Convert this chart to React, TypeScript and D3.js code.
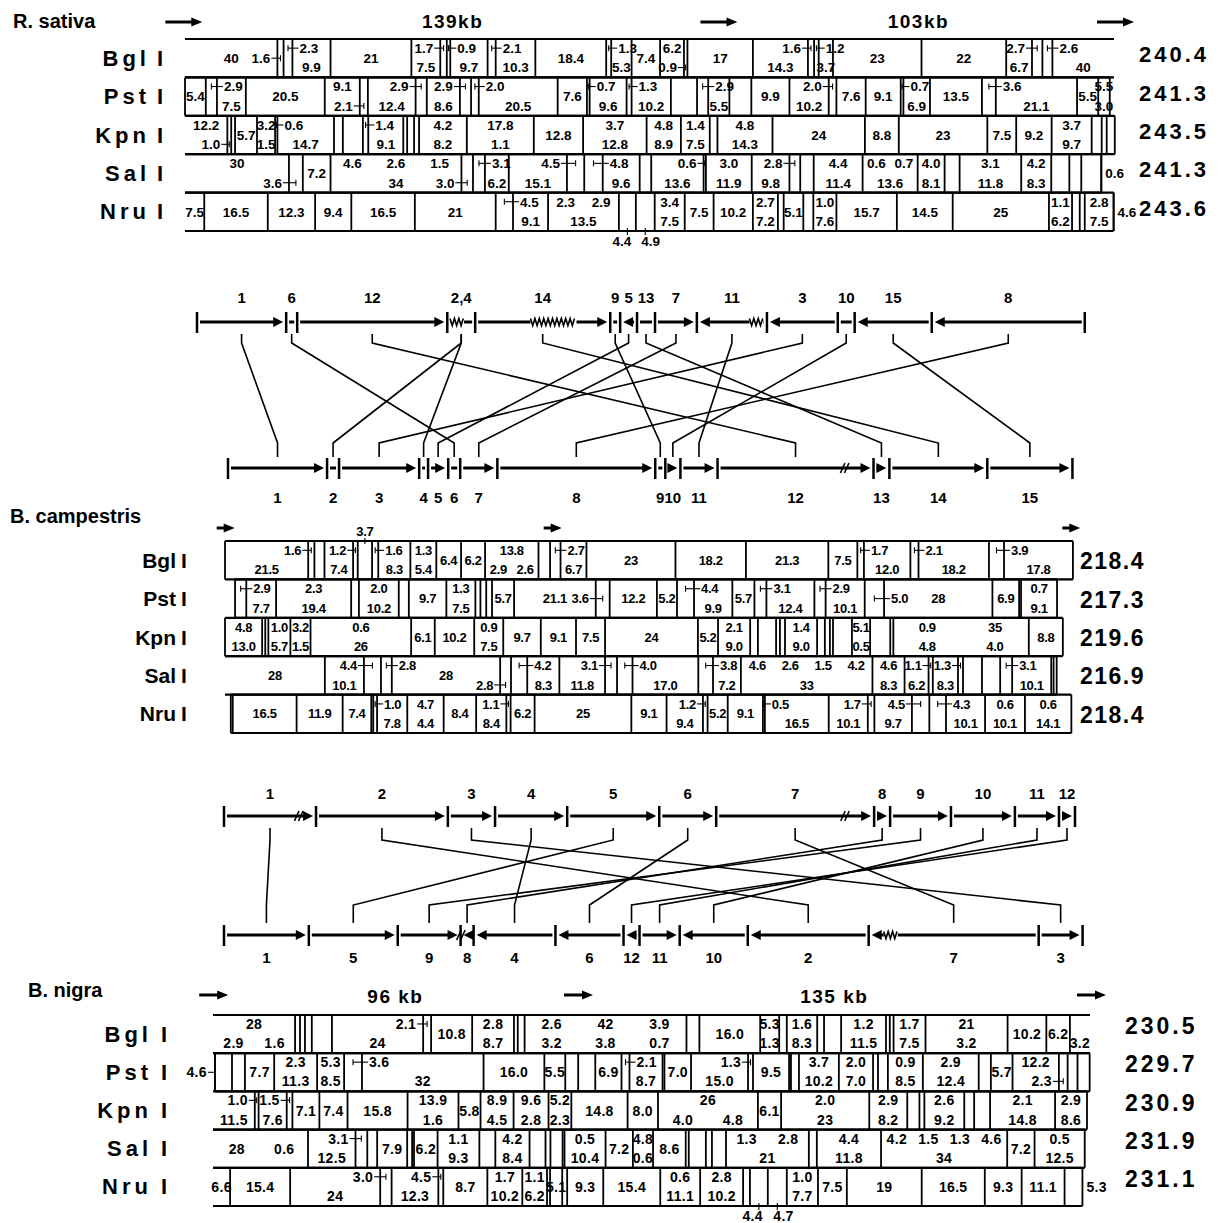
import React from "react";
import * as d3 from "d3";

const FONT = "'Liberation Sans', Arial, Helvetica, sans-serif";

const enzymes = ["Bgl", "Pst", "Kpn", "Sal", "Nru"];

// Fragment sizes (kb) in map order.
// suffix: < > label sits in the neighbouring box (top line), { } same but bottom line,
// [ ] same but middle line, ^ above the row, v below the row, r / l outside the row.
// *w = drawn width in kb when it differs from the printed size.
const rsBgl = ["40*24", "1.6[", "2.3>", "9.9", "21", "7.5", "1.7<", "0.9>", "9.7", "2.1>", "10.3", "18.4", "1.3>", "5.3", "7.4", "6.2", "0.9{", "17", "14.3", "1.6<", "1.2>", "3.7", "23", "22", "6.7", "2.7<", "2.6>", "40*16"];
const rsPst = ["5.4", "2.9>", "7.5", "20.5", "9.1", "2.1{", "12.4", "2.9<", "8.6", "2.9<", "2.0>", "20.5", "7.6", "0.7>", "9.6", "1.3>", "10.2", "*6.8", "2.9>", "5.5", "*5.7", "9.9", "10.2", "2.0<", "7.6", "9.1", "0.7>", "6.9", "13.5", "3.6>", "21.1", "5.5", "5.5/3.0*3"];
const rsKpn = ["12.2*11", "1.0{", "*1", "5.7", "3.2/1.5*4.7", "0.6>", "14.7", "*2.3", "*5.2", "1.4>", "9.1", "*1", "*1.8", "*1.3", "4.2/8.2*12.4", "17.8/1.1*17.4", "12.8", "3.7/12.8*16.5", "4.8/8.9*8.9", "1.4/7.5*7.5", "*2", "4.8/14.3*14.3", "24", "8.8", "23", "7.5", "9.2", "3.7/9.7*10.4", "*2.6", "*1.3", "*2.1"];
const rsSal = ["30*27", "3.6{", "7.2", "4.6 2.6 1.5/34*34", "3.0{", "3.1>", "6.2", "15.1", "4.5<", "4.8>", "9.6", "*3", "13.6", "0.6<", "3.0/11.9*11.9", "9.8", "2.8<", "*3.5", "4.4/11.4*12.7", "0.6 0.7/13.6*14.3", "4.0/8.1*7", "*3.9", "3.1/11.8*16", "4.2/8.3*7.8", "*4.7", "*3.1", "*5.2", "0.6*0r"];
const rsNru = ["7.5*5", "16.5", "12.3", "9.4", "16.5", "21", "4.5>", "9.1", "2.3 2.9/13.5*18.4", "4.4v", "4.9v", "3.4/7.5*7.8", "7.5", "10.2", "2.7/7.2*6.5", "*1.5", "5.1", "*2.6", "1.0/7.6*6", "15.7", "14.5", "25", "1.1/6.2*6", "*2", "*1.3", "2.8/7.5*7.5", "4.6*0r"];
const rsTotals = ["240.4", "241.3", "243.5", "241.3", "243.6"];
const rsStart = [0, 0, 0, 0, 0];
const rsOpen = ["LR", "", "L", "L", "L"];
const rsRegions = [139, 103];
const rsRegionLabels = ["139kb", "103kb"];

const bcBgl = ["21.5", "1.6<", "*2.6", "7.4", "1.2<", "3.7^", "1.6>", "8.3", "1.3/5.4*6.7", "6.4", "6.2", "13.8/2.9 2.6*13.8", "*3", "2.7>", "6.7", "23", "18.2", "21.3", "7.5", "1.7>", "12.0", "2.1>", "18.2", "3.9>", "17.8"];
const bcPst = ["2.9>", "7.7", "2.3/19.4*19.4", "*2", "2.0/10.2*10.3", "*2.6", "9.7", "1.3/7.5*7.5", "*1.3", "*1.5", "*1.5", "5.7", "21.1", "3.6[", "12.2", "5.2", "4.4>", "9.9", "5.7", "3.1>", "12.4", "2.9>", "10.1", "5.0]", "28", "6.9", "*0.5", "0.7/9.1*9.3"];
const bcKpn = ["4.8/13.0*9.6", "*0.8", "*0.8", "1.0/5.7*5.7", "3.2/1.5*5.2", "0.6/26*26", "6.1", "10.2", "0.9/7.5*7.5", "9.7", "9.1", "7.5", "24", "5.2", "2.1/9.0*8.3", "*2", "*4.7", "*1", "*1.3", "1.4/9.0*8.3", "*2", "*1.3", "*0.8", "*4.9", "5.1/0.5*4.7", "*5.2", "*0.8", "0.9 35/4.8 4.0*35", "8.8"];
const bcSal = ["28*25.8", "10.1", "4.4<", "2.8>", "28", "2.8{", "4.2>", "8.3", "11.8", "3.1<", "4.0>", "17.0", "3.8>", "7.2", "4.6 2.6 1.5 4.2/33*34", "4.6/8.3*8.3", "6.2", "1.1<", "8.3*6.5", "1.3<", "*4.9", "*4.7", "3.1>", "10.1", "*0.6", "*0.8"];
const bcNru = ["*0.5", "16.5", "11.9", "7.4", "*0.5", "1.0>", "7.8", "4.7/4.4*9.4", "8.4", "8.4*7.8", "1.1<", "6.2", "25", "9.1", "9.4", "1.2<", "5.2", "9.1", "0.5>", "16.5", "10.1", "1.7<", "9.7", "4.5<", "4.3>", "10.1", "0.6/10.1*10.3", "0.6/14.1*12"];
const bcTotals = ["218.4", "217.3", "219.6", "216.9", "218.4"];
const bcStart = [0, 2.6, 0, 0, 1.5];
const bcOpen = ["", "", "", "L", ""];
const bcRegions = [84.5, 134];
const bcRegionLabels = ["", ""];

const bnBgl = ["28/2.9 1.6*21.6", "*1.3", "*1.3", "*1.8", "*5.3", "24", "2.1<", "10.8", "2.8/8.7*11", "*1", "*1.8", "2.6 42 3.9/3.2 3.8 0.7*42.6", "*3.4", "16.0", "5.3/1.3*5", "*2", "1.6/8.3*8", "*1.8", "*4.5", "1.2/11.5*11.8", "*1", "*1", "1.7/7.5*8.4", "21/3.2*21.6", "10.2", "6.2", "/3.2*5.3"];
const bnPst = ["4.6*0l", "*4.5", "*3.4", "7.7", "2.3/11.3*11.3", "5.3/8.5*7.1", "3.6*4.7>", "32", "16.0", "5.5", "*3.4", "*4.5", "6.9", "2.1>", "8.7", "*0.5", "7.0", "15.0", "1.3<", "9.5", "*0.5", "*2.1", "3.7/10.2*10.5", "2.0/7.0*9", "*1.3", "*2.6", "0.9/8.5*9.2", "2.9/12.4*14.7", "*3.2", "5.7", "12.2", "2.3{", "*2.6", "*3.2"];
const bnKpn = ["11.5*11", "1.0<", "7.6*7.4", "1.5<", "7.1", "7.4", "15.8", "13.9/1.6*13.4", "5.8", "8.9/4.5*8.7", "9.6/2.8*9.2", "5.2/2.3*6", "14.8", "8.0", "26/4.0 4.8*26.3", "6.1", "2.0/23*23.2", "2.9/8.2*10", "*3.2", "*1.3", "2.6/9.2*10.5", "*2.6", "*4.2", "2.1/14.8*17.1", "2.9/8.6*8.4"];
const bnSal = ["28 0.6*25", "12.5", "3.1<", "*2.6", "7.9", "*1.3", "*0.5", "6.2", "1.1/9.3*11", "*4.2", "4.2/8.4*9", "*4.2", "*1.3", "*3.2", "*0.5", "0.5/10.4*10.8", "7.2", "4.8/0.6*5.3", "8.6", "*0.8", "*4.5", "*1.6", "*3.7", "1.3 2.8/21*21.8", "*2.1", "4.4/11.8*16.9", "4.2 1.5 1.3 4.6/34*33.2", "7.2", "0.5/12.5*13.2"];
const bnNru = ["6.6*4.5", "15.4*15.8", "24*23.7", "3.0<", "12.3", "4.5*1.3<", "8.7*11.6", "1.7/10.2*9.2", "1.1/6.2*6.5", "*0.8", "5.1*3.2", "*1.3", "9.3*9.5", "15.4*15", "0.6/11.1*10.5", "2.8/10.2*11.3", "*1.8", "4.4*4.7v", "4.7*5v", "1.0/7.7*8.2", "7.5*7.6", "19*19.7", "16.5*16.6", "9.3*9.7", "11.1*11.3", "5.3*4.7r"];
const bnTotals = ["230.5", "229.7", "230.9", "231.9", "231.1"];
const bnStart = [0, 0.5, 0, 0, 0];
const bnOpen = ["LR", "", "L", "L", "L"];
const bnRegions = [96, 135];
const bnRegionLabels = ["96 kb", "135 kb"];

// genome segments (label, length kb, glyph) for the two rearrangement diagrams
type Seg = [string, number, string];
const d1Top: Seg[] = [["1", 24.3, ">"], ["6", 3.0, "H"], ["12", 40.9, ">"], ["2,4", 7.6, "z"], ["14", 36.8, "Z>"], ["9", 2.7, "H"], ["5", 4.6, "<"], ["13", 4.9, "-"], ["7", 11.4, ">"], ["11", 19.1, "<z"], ["3", 19.3, "<"], ["10", 4.6, "H"], ["15", 21.0, "<"], ["8", 41.7, "<"]];
const d1Bottom: Seg[] = [["1", 25.6, ">"], ["2", 3.1, "H"], ["3", 20.7, ">"], ["4", 2.3, "H"], ["5", 5.2, ">"], ["6", 3.1, "H"], ["7", 9.6, ">"], ["8", 40.8, ">"], ["9", 2.6, "H"], ["10", 3.9, ">"], ["11", 9.6, ">"], ["12", 40.3, "s>"], ["13", 4.1, ">"], ["14", 25.3, ">"], ["15", 22.0, ">"]];
const d2Top: Seg[] = [["1", 23.6, "s>"], ["2", 33.8, ">"], ["3", 12.1, ">"], ["4", 18.5, ">"], ["5", 23.6, ">"], ["6", 14.6, ">"], ["7", 40.5, "s>"], ["8", 4.1, ">"], ["9", 15.6, ">"], ["10", 16.4, ">"], ["11", 11.3, ">"], ["12", 4.1, ">"]];
const d2Bottom: Seg[] = [["1", 22.8, ">"], ["5", 23.9, ">"], ["9", 16.9, ">"], ["8", 3.5, "s<"], ["4", 22.0, "<"], ["6", 18.3, "<"], ["12", 4.3, "<"], ["11", 10.8, ">"], ["10", 18.3, "<"], ["2", 32.5, "<"], ["7", 45.7, "z<"], ["3", 11.8, ">"]];

type Cfg = {
  title: string; titleX: number; titleY: number;
  x0: number; k: number; top: number; h: number; fs: number; ls: number;
  nameEnd: number; barX: number; nameLs: number; nameFs: number;
  totX: number; totFs: number; totLs: number; totDy: number;
  arrowY: number; arrowLen: number; arrowLead: number; regionY: number;
};

const rsCfg: Cfg = { title: "R. sativa", titleX: 13, titleY: 28, x0: 185, k: 3.85, top: 39, h: 38.4, fs: 13.5, ls: 0, nameEnd: 150, barX: 157, nameLs: 4, nameFs: 22, totX: 1139, totFs: 22, totLs: 3, totDy: 4, arrowY: 22, arrowLen: 37, arrowLead: 4.5, regionY: 28 };
const bcCfg: Cfg = { title: "B. campestris", titleX: 10, titleY: 523, x0: 225, k: 3.87, top: 541, h: 38.4, fs: 13, ls: -0.3, nameEnd: 176, barX: 181, nameLs: 0, nameFs: 21, totX: 1080, totFs: 23, totLs: 1.5, totDy: 9, arrowY: 528, arrowLen: 18, arrowLead: 2.5, regionY: 0 };
const bnCfg: Cfg = { title: "B. nigra", titleX: 28, titleY: 997, x0: 213, k: 3.8, top: 1015, h: 38.2, fs: 14, ls: 0.3, nameEnd: 152, barX: 161, nameLs: 4, nameFs: 22, totX: 1125, totFs: 23, totLs: 3, totDy: 0, arrowY: 995, arrowLen: 29, arrowLead: 4, regionY: 1003 };

type Frag = { text: string; w: number; code: string; a: number; b: number };

function parseRow(list: string[], start: number): Frag[] {
  let pos = start;
  return list.map((s) => {
    const m = s.match(/^([^*<>{}\[\]^vrl]*)(?:\*([\d.]+))?([<>{}\[\]^vrl]?)$/);
    const text = m ? m[1].trim() : s;
    const nums = text.split(/[\/ ]+/).filter(Boolean).map(Number);
    const w = m && m[2] !== undefined ? +m[2] : nums.length ? Math.max(...nums) : 0;
    const f = { text, w, code: (m && m[3]) || "", a: pos, b: pos + w };
    pos += w;
    return f;
  });
}

function arrowEl(x1: number, x2: number, y: number, key: string) {
  const dir = x2 > x1 ? 1 : -1;
  return (
    <g key={key}>
      <line x1={x1} x2={x2 - dir * 8} y1={y} y2={y} stroke="#000" strokeWidth={3} />
      <path d={`M${x2},${y}L${x2 - dir * 11},${y - 4.5}L${x2 - dir * 11},${y + 4.5}Z`} fill="#000" />
    </g>
  );
}

function renderRow(list: string[], start: number, open: string, y: number, h: number,
  x: d3.ScaleLinear<number, number>, fs: number, key: string) {
  const items = parseRow(list, start);
  const n = items.length;
  const els: React.ReactNode[] = [];
  const X0 = x(items[0].a), X1 = x(items[n - 1].b);
  els.push(<line key={key + "ht"} x1={X0} x2={X1} y1={y} y2={y} stroke="#000" strokeWidth={2.2} />);
  els.push(<line key={key + "hb"} x1={X0} x2={X1} y1={y + h} y2={y + h} stroke="#000" strokeWidth={2.2} />);
  const cuts = items.slice(0, -1).map((it) => it.b);
  if (!open.includes("L")) cuts.push(items[0].a);
  if (!open.includes("R")) cuts.push(items[n - 1].b);
  cuts.forEach((c, i) =>
    els.push(<line key={key + "v" + i} x1={x(c)} x2={x(c)} y1={y} y2={y + h} stroke="#000" strokeWidth={1.8} />));

  const yT = y + 14, yB = y + h - 5, yM = y + h / 2 + fs * 0.36;
  const lvY: Record<string, number> = { t: yT, b: yB, m: yM };
  const hostOf = (it: Frag, i: number) => {
    const c = it.code;
    if (!c) return -1;
    if ("<{[".includes(c)) return i - 1;
    if (">}]".includes(c)) return i + 1;
    return -1;
  };
  const levelOf = (c: string) => ("<>".includes(c) ? "t" : "{}".includes(c) ? "b" : "m");
  const used = items.map(() => ({ t: false, b: false }));
  items.forEach((it, i) => {
    const j = hostOf(it, i);
    if (j >= 0 && j < n) {
      const lv = levelOf(it.code);
      if (lv === "t") used[j].t = true;
      if (lv === "b") used[j].b = true;
    }
  });
  const tok = (s: string, A: number, B: number, ty: number, k: string) => {
    const t = s.trim().split(/\s+/).filter(Boolean);
    return t.map((wd, m) => (
      <text key={k + m} x={A + ((B - A) * (m + 0.5)) / t.length} y={ty} textAnchor="middle">{wd}</text>
    ));
  };
  items.forEach((it, i) => {
    if (!it.text) return;
    const k = key + "l" + i;
    const c = it.code;
    const xc = x((it.a + it.b) / 2);
    const j = hostOf(it, i);
    if (j >= 0 && j < n) {
      const host = items[j];
      const ty = lvY[levelOf(c)];
      const left = j < i;
      const edge = left ? x(host.b) : x(host.a);
      const tx = left ? edge - 7 : edge + 7;
      const ay = ty - fs * 0.36;
      els.push(<text key={k} x={tx} y={ty} textAnchor={left ? "end" : "start"}>{it.text}</text>);
      els.push(<line key={k + "a"} x1={tx + (left ? 1 : -1)} x2={xc} y1={ay} y2={ay} stroke="#000" strokeWidth={1.1} />);
      els.push(<line key={k + "b"} x1={xc} x2={xc} y1={ay - 3} y2={ay + 3} stroke="#000" strokeWidth={1.1} />);
      return;
    }
    if (c === "^" || c === "v") {
      const up = c === "^";
      const ty = up ? y - 5 : y + h + 15;
      const prevSame = i > 0 && items[i - 1].code === c;
      const nextSame = i < n - 1 && items[i + 1].code === c;
      const anchor = nextSame ? "end" : prevSame ? "start" : "middle";
      const tx = nextSame ? xc + 4 : prevSame ? xc - 4 : xc;
      els.push(<text key={k} x={tx} y={ty} textAnchor={anchor}>{it.text}</text>);
      els.push(<line key={k + "a"} x1={xc} x2={xc} y1={up ? y - 3 : y + h - 3} y2={up ? y + 3 : y + h + 4} stroke="#000" strokeWidth={1.1} />);
      return;
    }
    if (c === "r" || c === "l") {
      const right = c === "r";
      const edge = right ? x(it.b) : x(it.a);
      const tx = right ? edge + 4 : edge - 8;
      els.push(<text key={k} x={tx} y={yM} textAnchor={right ? "start" : "end"}>{it.text}</text>);
      if (!right) els.push(<line key={k + "a"} x1={tx + 1} x2={edge} y1={yM - fs * 0.36} y2={yM - fs * 0.36} stroke="#000" strokeWidth={1.1} />);
      return;
    }
    const A = x(it.a), B = x(it.b);
    const parts = it.text.split("/");
    if (parts.length === 2) {
      els.push(...tok(parts[0], A, B, yT, k + "t"));
      els.push(...tok(parts[1], A, B, yB, k + "b"));
    } else {
      const u = used[i];
      const ty = u.t && !u.b ? yB : u.b && !u.t ? yT : yM;
      els.push(...tok(parts[0], A, B, ty, k + "m"));
    }
  });
  return els;
}

function MapSection({ cfg, rows, starts, opens, totals, regions, regionLabels }: {
  cfg: Cfg; rows: string[][]; starts: number[]; opens: string[]; totals: string[];
  regions: number[]; regionLabels: string[];
}) {
  const x = d3.scaleLinear().domain([0, 250]).range([cfg.x0, cfg.x0 + 250 * cfg.k]);
  const bounds = [0, ...d3.cumsum(regions)];
  return (
    <g>
      <text x={cfg.titleX} y={cfg.titleY} fontSize={20} fontWeight="bold">{cfg.title}</text>
      {bounds.map((b, i) => arrowEl(x(b + cfg.arrowLead) - cfg.arrowLen, x(b + cfg.arrowLead), cfg.arrowY, "ar" + i))}
      {regionLabels.map((lab, i) => lab ? (
        <text key={"rl" + i} x={x(bounds[i] + regions[i] / 2)} y={cfg.regionY} fontSize={19} fontWeight="bold" letterSpacing={1.5} textAnchor="middle">{lab}</text>
      ) : null)}
      {rows.map((list, r) => {
        const y = cfg.top + r * cfg.h;
        const cy = y + cfg.h / 2;
        return (
          <g key={"row" + r}>
            <text x={cfg.nameEnd} y={cy + 7.5} fontSize={cfg.nameFs} fontWeight="bold" letterSpacing={cfg.nameLs} textAnchor="end">{enzymes[r]}</text>
            <text x={cfg.barX} y={cy + 7.5} fontSize={cfg.nameFs} fontWeight="bold">I</text>
            <text x={cfg.totX} y={cy + cfg.totDy} fontSize={cfg.totFs} fontWeight="bold" letterSpacing={cfg.totLs}>{totals[r]}</text>
            <g fontSize={cfg.fs} fontWeight="bold" letterSpacing={cfg.ls}>
              {renderRow(list, starts[r], opens[r], y, cfg.h, x, cfg.fs, "r" + r)}
            </g>
          </g>
        );
      })}
    </g>
  );
}

function track(list: Seg[], x0: number, k: number, y: number, labY: number, key: string) {
  const x = d3.scaleLinear().domain([0, 250]).range([x0, x0 + 250 * k]);
  let p = 0;
  const segs = list.map(([lab, len, mode]) => {
    const s = { lab, a: p, b: p + len, mode };
    p += len;
    return s;
  });
  const els: React.ReactNode[] = [];
  const tick = (xx: number, kk: string) => (
    <line key={kk} x1={xx} x2={xx} y1={y - 10} y2={y + 11} stroke="#000" strokeWidth={2.5} />
  );
  els.push(tick(x(segs[0].a), key + "t0"));
  segs.forEach((s, i) => {
    const A = x(s.a), B = x(s.b);
    const kk = key + "s" + i;
    els.push(tick(B, kk + "t"));
    const L = A + 3, R = B - 3;
    const m = s.mode;
    const zi = m.search(/[zZs]/);
    const arrow = m.replace(/[zZs]/, "");
    let zx1 = 0, zx2 = 0, ch = "";
    if (zi >= 0) {
      ch = m[zi];
      let f;
      if (ch === "s") f = arrow === ">" ? (zi === 0 ? 0.82 : 0.95) : arrow === "<" ? 0.08 : 0.5;
      else f = arrow === ">" ? 0.58 : arrow === "<" ? (zi === 0 ? 0.13 : 0.85) : 0.35;
      const wz = ch === "Z" ? 46 : ch === "z" ? 14 : 6;
      const cx = A + (B - A) * f;
      zx1 = cx - wz / 2;
      zx2 = cx + wz / 2;
    }
    const lx1 = arrow === "<" ? L + 6 : L;
    const lx2 = arrow === ">" ? R - 6 : R;
    if (ch === "z" || ch === "Z") {
      els.push(<line key={kk + "l1"} x1={lx1} x2={zx1} y1={y} y2={y} stroke="#000" strokeWidth={3} />);
      els.push(<line key={kk + "l2"} x1={zx2} x2={lx2} y1={y} y2={y} stroke="#000" strokeWidth={3} />);
      const pts: string[] = [];
      let up = true;
      for (let xx = zx1; xx <= zx2 + 0.01; xx += 2.2) {
        pts.push(`${xx},${up ? y - 3.5 : y + 3.5}`);
        up = !up;
      }
      els.push(<polyline key={kk + "z"} points={pts.join(" ")} fill="none" stroke="#000" strokeWidth={1.6} />);
    } else {
      els.push(<line key={kk + "l"} x1={lx1} x2={lx2} y1={y} y2={y} stroke="#000" strokeWidth={3} />);
      if (ch === "s") {
        [0, 4].forEach((d, q) => els.push(
          <line key={kk + "sl" + q} x1={zx1 + d - 2} x2={zx1 + d + 2.5} y1={y + 5} y2={y - 5} stroke="#000" strokeWidth={1.6} />));
      }
    }
    if (arrow === ">") els.push(<path key={kk + "h"} d={`M${R},${y}L${R - 10},${y - 5}L${R - 10},${y + 5}Z`} fill="#000" />);
    if (arrow === "<") els.push(<path key={kk + "h"} d={`M${L},${y}L${L + 10},${y - 5}L${L + 10},${y + 5}Z`} fill="#000" />);
    els.push(<text key={kk + "lab"} x={(A + B) / 2} y={labY} textAnchor="middle" fontSize={15} fontWeight="bold">{s.lab}</text>);
  });
  return { els, segs: segs.map((s) => ({ lab: s.lab, cx: (x(s.a) + x(s.b)) / 2 })) };
}

function Diagram({ top, bottom, tx0, tk, bx0, bk, yT, yB, labT, labB, st }: {
  top: Seg[]; bottom: Seg[]; tx0: number; tk: number; bx0: number; bk: number;
  yT: number; yB: number; labT: number; labB: number; st: number[];
}) {
  const t = track(top, tx0, tk, yT, labT, "T");
  const b = track(bottom, bx0, bk, yB, labB, "B");
  const links: React.ReactNode[] = [];
  t.segs.forEach((ts, i) => {
    ts.lab.split(",").forEach((lab) => {
      const bs = b.segs.find((s) => s.lab === lab);
      if (!bs) return;
      links.push(
        <path key={"k" + i + lab} d={`M${ts.cx},${st[0]}V${st[1]}L${bs.cx},${st[2]}V${st[3]}`} fill="none" stroke="#000" strokeWidth={1.6} />
      );
    });
  });
  return <g>{t.els}{b.els}{links}</g>;
}

export default function App() {
  return (
    <svg width={1226} height={1223} viewBox="0 0 1226 1223"
      style={{ position: "absolute", left: 0, top: 0, background: "#fff" }} fontFamily={FONT}>
      <rect x={0} y={0} width={1226} height={1223} fill="#fff" />
      <MapSection cfg={rsCfg} rows={[rsBgl, rsPst, rsKpn, rsSal, rsNru]} starts={rsStart} opens={rsOpen}
        totals={rsTotals} regions={rsRegions} regionLabels={rsRegionLabels} />
      <Diagram top={d1Top} bottom={d1Bottom} tx0={197} tk={3.67} bx0={228} bk={3.87}
        yT={322} yB={468} labT={303} labB={503} st={[334, 343, 443, 457]} />
      <MapSection cfg={bcCfg} rows={[bcBgl, bcPst, bcKpn, bcSal, bcNru]} starts={bcStart} opens={bcOpen}
        totals={bcTotals} regions={bcRegions} regionLabels={bcRegionLabels} />
      <Diagram top={d2Top} bottom={d2Bottom} tx0={224} tk={3.9} bx0={224} bk={3.72}
        yT={816} yB={935} labT={799} labB={963} st={[828, 840, 905, 923]} />
      <MapSection cfg={bnCfg} rows={[bnBgl, bnPst, bnKpn, bnSal, bnNru]} starts={bnStart} opens={bnOpen}
        totals={bnTotals} regions={bnRegions} regionLabels={bnRegionLabels} />
    </svg>
  );
}
